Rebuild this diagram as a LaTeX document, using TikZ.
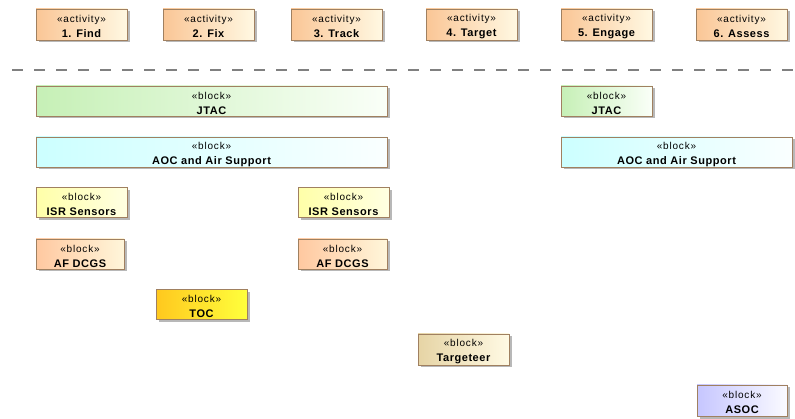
\documentclass[tikz,border=0pt]{standalone}
\usepackage{fontspec}
\setmainfont{Liberation Sans}
\newfontfamily\stereofont[LetterSpace=8]{Liberation Sans}
\newfontfamily\namefont[LetterSpace=5]{Liberation Sans Bold}
\usetikzlibrary{shadows}

% element fills (left -> right gradient)
\definecolor{actL}{RGB}{250,198,150}
\definecolor{actR}{RGB}{255,248,226}
\definecolor{jtacL}{RGB}{198,240,182}
\definecolor{jtacR}{RGB}{250,255,248}
\definecolor{aocL}{RGB}{204,255,255}
\definecolor{aocR}{RGB}{250,255,255}
\definecolor{isrL}{RGB}{255,255,168}
\definecolor{isrR}{RGB}{255,255,226}
\definecolor{dcgsL}{RGB}{255,200,160}
\definecolor{dcgsR}{RGB}{255,246,218}
\definecolor{tocL}{RGB}{255,200,30}
\definecolor{tocR}{RGB}{255,255,60}
\definecolor{tgtL}{RGB}{230,212,165}
\definecolor{tgtR}{RGB}{255,250,228}
\definecolor{asocL}{RGB}{198,198,255}
\definecolor{asocR}{RGB}{250,250,255}
\definecolor{edge}{RGB}{160,128,96}
\definecolor{sep}{RGB}{128,128,128}

% two-line element label: stereotype above, bold name below
% (the strut on the first line lowers the pair slightly in the box)
\newcommand{\elem}[2]{{\stereofont\fontsize{10}{15}\selectfont\rule{0pt}{12pt}«#1»}\\{\namefont\fontsize{11}{15}\selectfont #2}}

\tikzset{
  elembox/.style={draw=edge, line width=0.8pt, rectangle,
    minimum height=30pt, inner sep=0pt, align=center,
    font=\fontsize{10}{15}\selectfont,
    drop shadow={shadow xshift=2.5pt, shadow yshift=-2.5pt, fill=black, opacity=0.28}},
  actbox/.style={elembox, left color=actL, right color=actR, minimum width=91pt, minimum height=31pt},
  jtacbox/.style={elembox, left color=jtacL, right color=jtacR},
  aocbox/.style={elembox, left color=aocL, right color=aocR},
  isrbox/.style={elembox, left color=isrL, right color=isrR},
  dcgsbox/.style={elembox, left color=dcgsL, right color=dcgsR},
  tocbox/.style={elembox, left color=tocL, right color=tocR},
  tgtbox/.style={elembox, left color=tgtL, right color=tgtR},
  asocbox/.style={elembox, left color=asocL, right color=asocR},
  separator/.style={draw=sep, line width=1.3pt, dash pattern=on 11pt off 11pt}
}

\begin{document}
\begin{tikzpicture}[x=1pt, y=-1pt]
  \useasboundingbox (0,0) rectangle (795,419);

  % activity lane
  \node[actbox] (find)   at (81.5,24.5)  {\elem{activity}{1. Find}};
  \node[actbox] (fix)    at (208.5,24.5) {\elem{activity}{2. Fix}};
  \node[actbox] (track)  at (336.5,24.5) {\elem{activity}{3. Track}};
  \node[actbox] (target) at (471.5,24.5) {\elem{activity}{4. Target}};
  \node[actbox] (engage) at (606.5,24.5) {\elem{activity}{5. Engage}};
  \node[actbox] (assess) at (741.5,24.5) {\elem{activity}{6. Assess}};

  % lane divider
  \coordinate (sepA) at (12,70);
  \coordinate (sepB) at (795,70);
  \draw[separator] (sepA) -- (sepB);

  % participating blocks
  \node[jtacbox, minimum width=351pt] (jtac1) at (211.5,101) {\elem{block}{JTAC}};
  \node[aocbox,  minimum width=351pt] (aoc1)  at (211.5,152) {\elem{block}{AOC and Air Support}};
  \node[jtacbox, minimum width=91pt]  (jtac2) at (606.5,101) {\elem{block}{JTAC}};
  \node[aocbox,  minimum width=231pt] (aoc2)  at (676.5,152) {\elem{block}{AOC and Air Support}};

  \node[isrbox,  minimum width=91pt] (isr1)  at (81.5,202.5)  {\elem{block}{ISR Sensors}};
  \node[isrbox,  minimum width=91pt] (isr2)  at (343.5,202.5) {\elem{block}{ISR Sensors}};
  \node[dcgsbox, minimum width=88pt] (dcgs1) at (80,254)      {\elem{block}{AF DCGS}};
  \node[dcgsbox, minimum width=89pt] (dcgs2) at (342.5,254)   {\elem{block}{AF DCGS}};
  \node[tocbox,  minimum width=91pt] (toc)   at (201.5,304.5) {\elem{block}{TOC}};
  \node[tgtbox,  minimum width=91pt, minimum height=31pt] (tgt) at (463.5,349.5) {\elem{block}{Targeteer}};
  \node[asocbox, minimum width=90pt, minimum height=31pt] (asoc) at (742,400.5) {\elem{block}{ASOC}};
\end{tikzpicture}
\end{document}
